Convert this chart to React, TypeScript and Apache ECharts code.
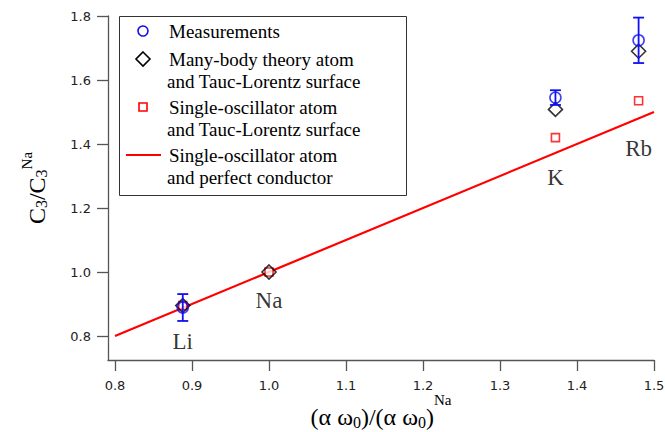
import React, { useEffect, useRef } from "react";
import * as echarts from "echarts";

const elements = ["Li", "Na", "K", "Rb"];
const xRatio = [0.888, 1.0, 1.372, 1.48];
const measured: (number | null)[] = [0.889, null, 1.545, 1.724];
const measuredErr = [0.042, 0, 0.023, 0.071];
const manyBody = [0.895, 1.0, 1.508, 1.69];
const singleOsc = [0.895, 1.0, 1.42, 1.535];
const perfectX = [0.8, 1.5];
const perfectY = [0.8, 1.5];
const labelY = [0.784, 0.9125, 1.294, 1.3875];
const xTicks = [0.8, 0.9, 1.0, 1.1, 1.2, 1.3, 1.4, 1.5];
const yTicks = [0.8, 1.0, 1.2, 1.4, 1.6, 1.8];
const legendNames = [
  ["Measurements"],
  ["Many-body theory atom", "and Tauc-Lorentz surface"],
  ["Single-oscillator atom", "and Tauc-Lorentz surface"],
  ["Single-oscillator atom", "and perfect conductor"],
];

const BLUE = "#1010f0";
const RED = "#ff0000";
const AXIS = "#555555";
const SERIF = "'Liberation Serif', 'Times New Roman', serif";
const SANS = "'DejaVu Sans', sans-serif";

export default function App() {
  const ref = useRef<HTMLDivElement>(null);
  useEffect(() => {
    if (!ref.current) return;
    const chart = echarts.init(ref.current, undefined, { renderer: "svg" });

    const errData = xRatio
      .map((x, i) =>
        measured[i] == null || measuredErr[i] === 0
          ? null
          : [x, (measured[i] as number) - measuredErr[i], (measured[i] as number) + measuredErr[i]]
      )
      .filter((d) => d !== null);

    const lineH = 22;
    const legendChildren: any[] = [
      {
        type: "rect",
        shape: { x: 119.5, y: 16.5, width: 287, height: 179 },
        style: { fill: "#fff", stroke: "#333", lineWidth: 1 },
      },
    ];
    const entryY = [31, 59, 107, 155];
    entryY.forEach((cy, i) => {
      if (i === 0) {
        legendChildren.push({ type: "circle", shape: { cx: 143, cy, r: 5 }, style: { fill: "none", stroke: BLUE, lineWidth: 1.6 } });
      } else if (i === 1) {
        legendChildren.push({ type: "polygon", shape: { points: [[143, cy - 7], [150, cy], [143, cy + 7], [136, cy]] }, style: { fill: "none", stroke: "#000", lineWidth: 1.6 } });
      } else if (i === 2) {
        legendChildren.push({ type: "rect", shape: { x: 139, y: cy - 4, width: 8, height: 8 }, style: { fill: "none", stroke: RED, lineWidth: 1.6 } });
      } else {
        legendChildren.push({ type: "line", shape: { x1: 126, y1: cy, x2: 161, y2: cy }, style: { stroke: RED, lineWidth: 2 } });
      }
      legendNames[i].forEach((t, j) => {
        legendChildren.push({
          type: "text",
          x: j === 0 ? 169 : 167,
          y: cy + j * lineH,
          style: { text: t, font: `19px ${SERIF}`, fill: "#000", verticalAlign: "middle", align: "left" },
        });
      });
    });

    const richX = {
      t: { fontFamily: SERIF, fontSize: 24, color: "#000", lineHeight: 28, verticalAlign: "middle" },
      s: { fontFamily: SERIF, fontSize: 16, color: "#000", lineHeight: 16, verticalAlign: "middle", padding: [11, 0, 0, 0] },
      p: { fontFamily: SERIF, fontSize: 15, color: "#000", lineHeight: 15, verticalAlign: "middle", padding: [0, 0, 34, 0] },
    };
    const richY = {
      t: { fontFamily: SERIF, fontSize: 24, color: "#000", lineHeight: 28, verticalAlign: "middle" },
      s: { fontFamily: SERIF, fontSize: 16, color: "#000", lineHeight: 16, verticalAlign: "middle", padding: [10, 0, 0, 0] },
      p: { fontFamily: SERIF, fontSize: 15, color: "#000", lineHeight: 15, verticalAlign: "middle", padding: [0, 0, 20, 0] },
    };

    chart.setOption({
      animation: false,
      backgroundColor: "#fff",
      grid: { left: 108, right: 11, top: 16, bottom: 72, containLabel: false, outerBoundsMode: "none" },
      xAxis: {
        type: "value",
        min: 0.7909,
        max: 1.5,
        name: "{t|(α ω}{s|0}{t|)/(α ω}{s|0}{t|)}{p|Na}",
        nameLocation: "middle",
        nameGap: 43,
        nameMoveOverlap: false,
        nameTextStyle: { rich: richX },
        splitLine: { show: false },
        axisLine: { show: true, lineStyle: { color: AXIS, width: 1.3 } },
        axisTick: { show: true, length: 11, inside: false, lineStyle: { color: AXIS, width: 1.3 }, customValues: xTicks },
        axisLabel: {
          customValues: xTicks,
          margin: 19,
          fontFamily: SANS,
          fontSize: 13,
          color: "#222",
          formatter: (v: number) => v.toFixed(1),
        },
      },
      yAxis: {
        type: "value",
        min: 0.725,
        max: 1.8,
        name: "{t|C}{s|3}{t|/C}{s|3}{p|Na}",
        nameLocation: "middle",
        nameGap: 57.5,
        nameMoveOverlap: false,
        nameRotate: 90,
        nameTextStyle: { rich: richY },
        splitLine: { show: false },
        axisLine: { show: true, lineStyle: { color: AXIS, width: 1.3 } },
        axisTick: { show: true, length: 11, inside: false, lineStyle: { color: AXIS, width: 1.3 }, customValues: yTicks },
        axisLabel: {
          customValues: yTicks,
          margin: 17,
          fontFamily: SANS,
          fontSize: 13,
          color: "#222",
          formatter: (v: number) => v.toFixed(1),
        },
      },
      graphic: [{ type: "group", children: legendChildren, z: 100 }],
      series: [
        {
          type: "line",
          name: "Single-oscillator atom and perfect conductor",
          data: perfectX.map((x, i) => [x, perfectY[i]]),
          symbol: "none",
          lineStyle: { color: RED, width: 2.2 },
          z: 1,
        },
        {
          type: "scatter",
          name: "Single-oscillator atom and Tauc-Lorentz surface",
          data: xRatio.map((x, i) => [x, singleOsc[i]]),
          symbol: "rect",
          symbolSize: 8,
          itemStyle: { color: "#fff", borderColor: RED, borderWidth: 1.6 },
          z: 2,
        },
        {
          type: "scatter",
          name: "Many-body theory atom and Tauc-Lorentz surface",
          data: xRatio.map((x, i) => [x, manyBody[i]]),
          symbol: "diamond",
          symbolSize: 14,
          itemStyle: { color: "transparent", borderColor: "#000", borderWidth: 1.6 },
          z: 3,
        },
        {
          type: "scatter",
          name: "Measurements",
          data: xRatio.map((x, i) => [x, measured[i]]).filter((d) => d[1] != null),
          symbol: "circle",
          symbolSize: 11,
          itemStyle: { color: "transparent", borderColor: BLUE, borderWidth: 1.6 },
          z: 4,
        },
        {
          type: "custom",
          name: "errors",
          data: errData,
          z: 5,
          renderItem: (params: any, api: any) => {
            const x = api.value(0);
            const lo = api.coord([x, api.value(1)]);
            const hi = api.coord([x, api.value(2)]);
            const w = 5.5;
            const style = { stroke: BLUE, lineWidth: 1.8 };
            return {
              type: "group",
              children: [
                { type: "line", shape: { x1: lo[0], y1: lo[1], x2: hi[0], y2: hi[1] }, style },
                { type: "line", shape: { x1: lo[0] - w, y1: lo[1], x2: lo[0] + w, y2: lo[1] }, style },
                { type: "line", shape: { x1: hi[0] - w, y1: hi[1], x2: hi[0] + w, y2: hi[1] }, style },
              ],
            };
          },
        },
        {
          type: "scatter",
          name: "labels",
          data: xRatio.map((x, i) => ({ value: [x, labelY[i]], name: elements[i] })),
          symbolSize: 0,
          silent: true,
          label: {
            show: true,
            position: "inside",
            formatter: (p: any) => p.name,
            fontFamily: SERIF,
            fontSize: 23,
            color: "#000",
          },
          z: 6,
        },
      ],
    });
    return () => chart.dispose();
  }, []);
  return <div ref={ref} style={{ width: 665, height: 432, position: "absolute", left: 0, top: 0 }} />;
}
